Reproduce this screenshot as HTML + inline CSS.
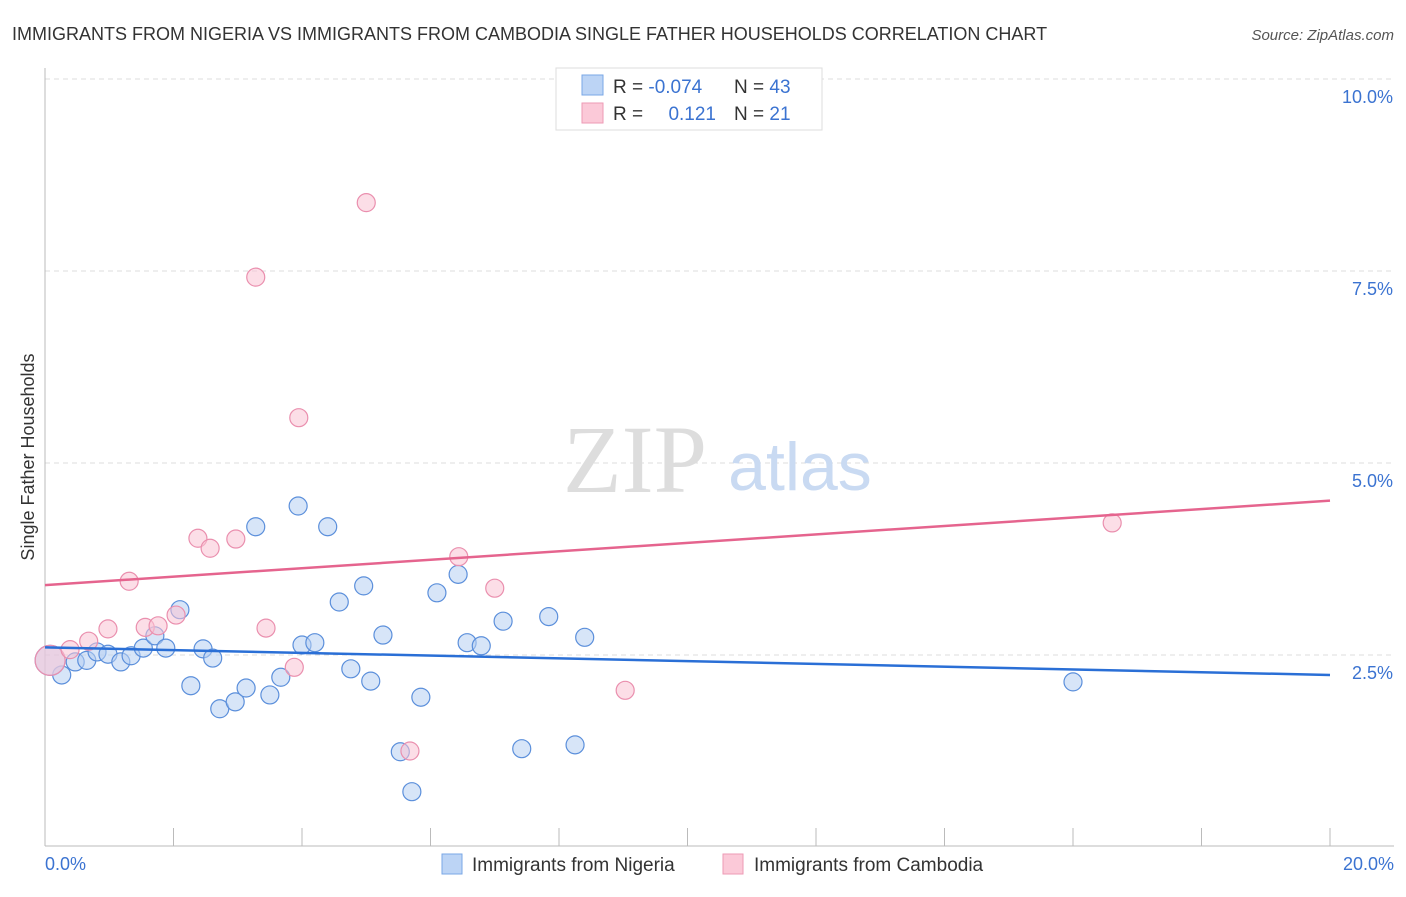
<!DOCTYPE html>
<html><head><meta charset="utf-8"><style>
body{margin:0;background:#fff;font-family:"Liberation Sans",sans-serif}
</style></head><body>
<svg width="1406" height="892" xmlns="http://www.w3.org/2000/svg" font-family="Liberation Sans, sans-serif">
<text x="12" y="40" font-size="18" fill="#333">IMMIGRANTS FROM NIGERIA VS IMMIGRANTS FROM CAMBODIA SINGLE FATHER HOUSEHOLDS CORRELATION CHART</text>
<text x="1394" y="40" font-size="15" fill="#555" font-style="italic" text-anchor="end">Source: ZipAtlas.com</text>
<g id="grid"></g>
<text x="635" y="492" font-size="96" fill="#ddd" font-family="Liberation Serif, serif" text-anchor="middle">ZIP</text>
<text x="800" y="490" font-size="68" fill="#c9daf2" text-anchor="middle">atlas</text>
<text x="34" y="457" font-size="18" fill="#333" text-anchor="middle" transform="rotate(-90 34 457)">Single Father Households</text>
<g id="marks"></g>
<g>
<rect x="556" y="68" width="266" height="62" fill="#fff" stroke="#ddd"/>
<rect x="582" y="75" width="21" height="20" fill="#bcd4f5" stroke="#7aa7e6"/>
<rect x="582" y="103" width="21" height="20" fill="#fbc9d8" stroke="#ee9ab5"/>
<text x="613" y="93" font-size="19" fill="#333">R = <tspan fill="#3b73d1">-0.074</tspan></text>
<text x="734" y="93" font-size="19" fill="#333">N = <tspan fill="#3b73d1">43</tspan></text>
<text x="613" y="120" font-size="19" fill="#333">R = </text>
<text x="716" y="120" font-size="19" fill="#3b73d1" text-anchor="end">0.121</text>
<text x="734" y="120" font-size="19" fill="#333">N = <tspan fill="#3b73d1">21</tspan></text>
</g>
<g>
<rect x="442" y="854" width="20" height="20" fill="#bcd4f5" stroke="#7aa7e6"/>
<text x="472" y="871" font-size="19" fill="#333">Immigrants from Nigeria</text>
<rect x="723" y="854" width="20" height="20" fill="#fbc9d8" stroke="#ee9ab5"/>
<text x="754" y="871" font-size="19" fill="#333">Immigrants from Cambodia</text>
</g>
</svg>
<script>
const blueX=[0.26,0.47,0.65,0.81,0.98,1.18,1.34,1.53,1.71,1.88,2.10,2.27,2.46,2.61,2.72,2.96,3.13,3.28,3.50,3.67,3.94,4.00,4.20,4.40,4.58,4.76,4.96,5.07,5.26,5.53,5.71,5.85,6.10,6.43,6.57,6.79,7.13,7.42,7.84,8.25,8.40,16.00,0.08];
const blueY=[2.24,2.41,2.43,2.54,2.51,2.41,2.49,2.59,2.75,2.59,3.09,2.10,2.58,2.46,1.80,1.89,2.07,4.17,1.98,2.21,4.44,2.63,2.66,4.17,3.19,2.32,3.40,2.16,2.76,1.24,0.72,1.95,3.31,3.55,2.66,2.62,2.94,1.28,3.00,1.33,2.73,2.15,2.43];
const pinkX=[0.08,0.39,0.68,0.98,1.31,1.56,1.76,2.04,2.38,2.57,2.97,3.28,3.44,3.88,3.95,5.00,5.68,6.44,7.00,9.03,16.61];
const pinkY=[2.43,2.57,2.68,2.84,3.46,2.86,2.88,3.02,4.02,3.89,4.01,7.42,2.85,2.34,5.59,8.39,1.25,3.78,3.37,2.04,4.22];
const blueTrend=[2.60,2.24];
const pinkTrend=[3.41,4.51];
const yTicks=[2.5,5.0,7.5,10.0];
const yTickLabels=["2.5%","5.0%","7.5%","10.0%"];
const xTicks=[0,2,4,6,8,10,12,14,16,18,20];
const NS="http://www.w3.org/2000/svg";
const X=v=>45+v/20*1285;
const Y=v=>847-v/2.5*192;
function mk(t,a,p){const e=document.createElementNS(NS,t);for(const k in a)e.setAttribute(k,a[k]);p.appendChild(e);return e;}
const grid=document.getElementById('grid'),marks=document.getElementById('marks');
yTicks.forEach((t,i)=>{
 const l=mk('line',{x1:45,x2:1394,y1:Y(t),y2:Y(t),stroke:'#ddd','stroke-dasharray':'5,4'},grid);
 
 
 const tx=mk('text',{x:1393,y:Y(t)+24,'font-size':18,fill:'#3b73d1','text-anchor':'end'},grid);
 tx.textContent=yTickLabels[i];
 
 
});
const ax=mk('line',{x1:45,x2:45,y1:68,y2:846,stroke:'#bbb'},grid);


const bx=mk('line',{x1:45,x2:1394,y1:846,y2:846,stroke:'#bbb'},grid);


xTicks.forEach(t=>{const l=mk('line',{x1:X(t),x2:X(t),y1:828,y2:846,stroke:'#bbb'},grid);
 
 });
const xl0=mk('text',{x:45,y:870,'font-size':18,fill:'#3b73d1'},grid);xl0.textContent=xTicks[0].toFixed(1)+'%';


const xl1=mk('text',{x:1394,y:870,'font-size':18,fill:'#3b73d1','text-anchor':'end'},grid);xl1.textContent=xTicks[xTicks.length-1].toFixed(1)+'%';


function pts(xs,ys,fill,stroke,name){xs.forEach((x,i)=>{const big=(i==xs.length-1&&name=='nigeria-point')||(i==0&&name=='cambodia-point');
 const c=mk('circle',{cx:X(x),cy:Y(ys[i]),r:big?15:9,fill:fill,'fill-opacity':0.55,stroke:stroke,'stroke-width':1.2},marks);
 
 });}
pts(blueX,blueY,'#b7d0f3','#5b8fdb','nigeria-point');
pts(pinkX,pinkY,'#f9c3d4','#ea8fae','cambodia-point');
const bl=mk('line',{x1:X(0),x2:X(20),y1:Y(blueTrend[0]),y2:Y(blueTrend[1]),stroke:'#2a6fd6','stroke-width':2.5},marks);


const pl=mk('line',{x1:X(0),x2:X(20),y1:Y(pinkTrend[0]),y2:Y(pinkTrend[1]),stroke:'#e5648e','stroke-width':2.5},marks);


</script>
</body></html>
